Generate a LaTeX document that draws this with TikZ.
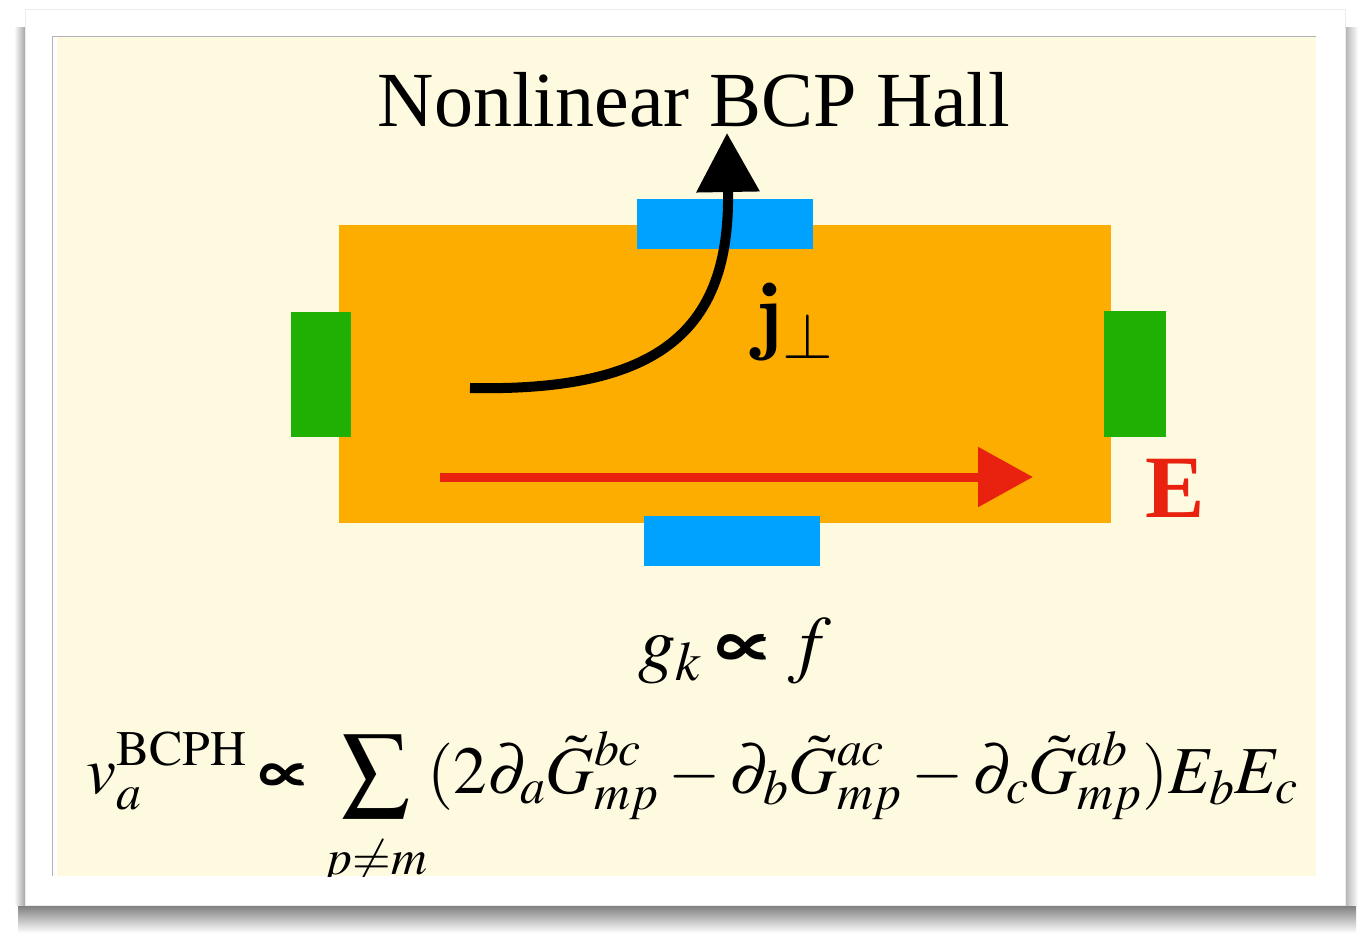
\documentclass[tikz,border=0pt]{standalone}
\usepackage{amsmath}
\usepackage{mathptmx}
\usepackage{fontspec}
\setmainfont{Liberation Serif}
\usepackage{xcolor}
\usepackage{tikz}
\usetikzlibrary{arrows.meta}

\definecolor{bgyellow}{RGB}{254,250,224}
\definecolor{sampleorange}{RGB}{253,173,0}
\definecolor{leadgreen}{RGB}{31,176,3}
\definecolor{leadblue}{RGB}{0,162,255}
\definecolor{fieldred}{RGB}{232,34,14}

\begin{document}
\begin{tikzpicture}[x=1pt, y=-1pt,
  pad/.style={inner sep=0pt, outer sep=0pt},
  txt/.style={inner sep=0pt, anchor=base}]
\useasboundingbox (0,0) rectangle (1364,933);
% card with its shadow
\fill[white] (0,0) rectangle (1364,933);
\shade[top color=black!55, bottom color=white] (18,903) rectangle (1356,933);
\shade[left color=white, right color=black!35] (14,28) rectangle (25,905);
\shade[left color=black!30, right color=white] (1345,28) rectangle (1358,905);
\filldraw[white, draw=black!8] (25,9) rectangle (1345,905);
\fill[bgyellow] (57,36) rectangle (1316,876);
\draw[black!30, thin] (52,876) -- (52,36) -- (1316,36);
% sample and leads
\node[pad, fill=sampleorange, minimum width=772pt, minimum height=298pt] (sample) at (725,374) {};
\node[pad, fill=leadgreen, minimum width=60pt, minimum height=125pt] (leftlead) at (321,374.5) {};
\node[pad, fill=leadgreen, minimum width=62pt, minimum height=126pt] (rightlead) at (1135,374) {};
\node[pad, fill=leadblue, minimum width=176pt, minimum height=50pt] (toplead) at (725,224) {};
\node[pad, fill=leadblue, minimum width=176pt, minimum height=50pt] (botlead) at (732,541) {};
% currents
\coordinate (jstart) at (470,388);
\coordinate (jtip) at (727,133);
\coordinate (estart) at (440,477);
\coordinate (etip) at (1033,477);
\draw[line width=10pt, -{Triangle[length=59pt, width=61pt]}] (jstart) .. controls (660,392) and (730,330) .. (728,192) -- (jtip);
\draw[fieldred, line width=9pt, -{Triangle[length=55pt, width=58pt]}] (estart) -- (etip);
% labels
\node[txt, font=\fontsize{78}{90}\selectfont] (title) at (694,127) {Nonlinear BCP Hall};
\node[txt, anchor=base west, font=\fontsize{88}{100}\selectfont] (jperp) at (755,343) {{\fontfamily{lmr}\bfseries j}$_{\perp}$};
\node[txt, fieldred, font=\fontsize{89}{100}\selectfont\bfseries] (efield) at (1175,517) {E};
\node[txt, font=\fontsize{75}{90}\selectfont] (gk) at (735,668) {$g_k \pmb{\propto} f$};
\begin{scope}
\clip (57,36) rectangle (1316,876);
\node[txt, anchor=base west, font=\fontsize{67.2}{80}\selectfont] (bcph) at (86,793) {$\displaystyle v_a^{\mathrm{BCPH}} \pmb{\propto} \sum_{\lower 16pt\hbox{$\scriptstyle p\neq m$}} (2\partial_a\tilde{G}^{bc}_{mp} - \partial_b\tilde{G}^{ac}_{mp} - \partial_c\tilde{G}^{ab}_{mp})E_bE_c$};
\end{scope}
\end{tikzpicture}
\end{document}
